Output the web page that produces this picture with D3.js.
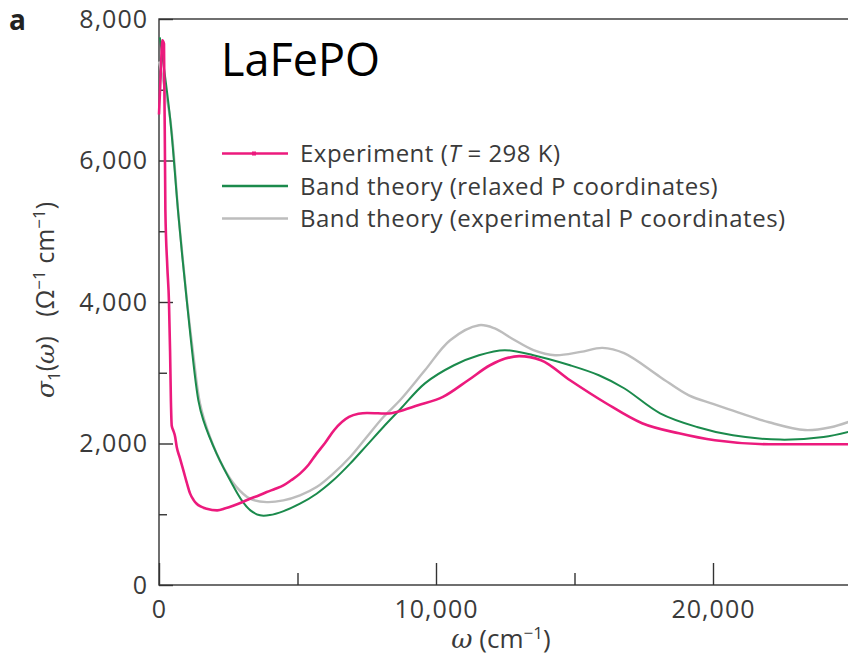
<!DOCTYPE html>
<html>
<head>
  <meta charset="utf-8">
  <script src="https://cdn.jsdelivr.net/npm/d3@7"></script>
  <title>LaFePO</title>
<style>
body { margin: 0; background: #fff; }
svg { background: #fff; font-family: "Open Sans", "Noto Sans", sans-serif; }
.axis text { fill: #3a3a3a; font-size: 25px; font-family: "Open Sans", sans-serif; letter-spacing: 1px; }
.axis path, .axis line { stroke: #333; stroke-width: 1.4; }
</style>
</head>
<body>
<script>
// experiment (T = 298 K)
var expW = [0, 60, 120, 180, 230, 300, 360, 400, 430, 460, 520, 580, 640, 750, 880, 1000, 1120, 1250, 1360, 1500, 1720, 2100, 2400, 2700, 3000, 3285, 3600, 3890, 4200, 4490, 4770, 5090, 5400, 5690, 6000, 6320, 6860, 7200, 7510, 8300, 8580, 9350, 10250, 11160, 11950, 12500, 13000, 13790, 14840, 16140, 17440, 18770, 20070, 22020, 25000];
var expS = [6650, 7200, 7700, 7650, 5300, 4500, 4000, 3300, 2600, 2250, 2180, 2100, 1950, 1800, 1620, 1450, 1295, 1200, 1149, 1110, 1078, 1055, 1085, 1125, 1170, 1220, 1265, 1314, 1360, 1408, 1480, 1574, 1700, 1857, 2010, 2187, 2375, 2420, 2432, 2423, 2446, 2540, 2658, 2894, 3106, 3200, 3235, 3178, 2894, 2569, 2286, 2144, 2045, 1990, 1990];

// band theory, relaxed P coordinates
var relW = [30, 400, 700, 1000, 1420, 1600, 2080, 2680, 3000, 3300, 3650, 4000, 4500, 5090, 5690, 6290, 6900, 7500, 8100, 8700, 9600, 10650, 11550, 12480, 13520, 14840, 15880, 16790, 18090, 19420, 20720, 22420, 23990, 25000];
var relS = [7740, 6600, 5230, 4030, 2610, 2330, 1857, 1400, 1190, 1055, 985, 988, 1045, 1149, 1290, 1479, 1715, 1974, 2234, 2480, 2850, 3106, 3248, 3319, 3248, 3106, 2965, 2781, 2427, 2234, 2116, 2055, 2092, 2175];

// band theory, experimental P coordinates
var expPW = [0, 400, 700, 1000, 1240, 1480, 1840, 2320, 2800, 3285, 3890, 4490, 5090, 5690, 6290, 6900, 7500, 8100, 8700, 9600, 10510, 11550, 12100, 12800, 13520, 14300, 15220, 16010, 16790, 18090, 19130, 20000, 20900, 22020, 23320, 24250, 25000];
var expPS = [7400, 6600, 5250, 4050, 3250, 2565, 2092, 1667, 1384, 1220, 1172, 1196, 1267, 1384, 1574, 1809, 2092, 2375, 2611, 3035, 3460, 3672, 3630, 3470, 3320, 3248, 3295, 3351, 3276, 2941, 2680, 2560, 2440, 2300, 2190, 2230, 2320];

var yMajor = [0, 2000, 4000, 6000, 8000];
var yMinor = [1000, 3000, 5000, 7000];
var xMajor = [0, 10000, 20000];
var xMinor = [5000, 15000];

var legendNames = ['Experiment', 'Band theory (relaxed P coordinates)', 'Band theory (experimental P coordinates)'];
var colors = ['#ec1a7d', '#1b8a4c', '#bdbdbd'];

var width = 848, height = 655;
var x = d3.scaleLinear().domain([0, 25000]).range([159, 851.5]);
var y = d3.scaleLinear().domain([0, 8000]).range([585, 19]);

var svg = d3.select('body').append('svg')
  .attr('width', width)
  .attr('height', height);

// frame
svg.append('rect')
  .attr('x', x(0)).attr('y', y(8000))
  .attr('width', x(25000) + 5 - x(0)).attr('height', y(0) - y(8000))
  .attr('fill', 'none').attr('stroke', '#333').attr('stroke-width', 1.4);

var fmt = d3.format(',');

svg.append('g').attr('class', 'axis')
  .attr('transform', 'translate(' + x(0) + ',0)')
  .call(d3.axisLeft(y).tickValues(yMajor).tickSize(-14).tickPadding(11).tickFormat(fmt))
  .call(function(g){ g.select('.domain').remove(); });
svg.append('g').attr('class', 'axis')
  .attr('transform', 'translate(' + x(0) + ',0)')
  .call(d3.axisLeft(y).tickValues(yMinor).tickSize(-8).tickFormat(''))
  .call(function(g){ g.select('.domain').remove(); });

svg.append('g').attr('class', 'axis')
  .attr('transform', 'translate(0,' + y(0) + ')')
  .call(d3.axisBottom(x).tickValues(xMajor).tickSize(-22).tickPadding(15).tickFormat(fmt))
  .call(function(g){ g.select('.domain').remove(); });
svg.append('g').attr('class', 'axis')
  .attr('transform', 'translate(0,' + y(0) + ')')
  .call(d3.axisBottom(x).tickValues(xMinor).tickSize(-12).tickFormat(''))
  .call(function(g){ g.select('.domain').remove(); });

// curves
var smooth = d3.line()
  .x(function(d){ return x(d[0]); })
  .y(function(d){ return y(d[1]); })
  .curve(d3.curveCatmullRom.alpha(0.5));
var mono = d3.line()
  .x(function(d){ return x(d[0]); })
  .y(function(d){ return y(d[1]); })
  .curve(d3.curveMonotoneX);

function pairs(ws, ss){ return ws.map(function(w, i){ return [w, ss[i]]; }); }

svg.append('path').datum(pairs(expPW, expPS))
  .attr('d', smooth).attr('fill', 'none')
  .attr('stroke', colors[2]).attr('stroke-width', 2.4);
svg.append('path').datum(pairs(relW, relS))
  .attr('d', smooth).attr('fill', 'none')
  .attr('stroke', colors[1]).attr('stroke-width', 2);
svg.append('path').datum(pairs(expW, expS))
  .attr('d', mono).attr('fill', 'none')
  .attr('stroke', colors[0]).attr('stroke-width', 2.6);

// legend
var legend = svg.append('g');
legendNames.forEach(function(name, i){
  var ly = 153.5 + i * 32.5;
  legend.append('line')
    .attr('x1', 222).attr('x2', 288).attr('y1', ly).attr('y2', ly)
    .attr('stroke', colors[i]).attr('stroke-width', i == 0 ? 2.4 : 2.6);
  var t = legend.append('text')
    .attr('x', 300).attr('y', ly + 8.5)
    .attr('fill', '#3a3a3a').style('font-size', '24px')
    .style('letter-spacing', '0.5px');
  if (i == 0) {
    t.append('tspan').text('Experiment (');
    t.append('tspan').style('font-style', 'italic').text('T');
    t.append('tspan').text(' = 298 K)');
  } else {
    t.text(name);
  }
});
legend.append('rect')
  .attr('x', 252).attr('y', 151.5).attr('width', 4).attr('height', 4)
  .attr('fill', colors[0]);

// labels
svg.append('text')
  .attr('x', 9).attr('y', 30)
  .style('font-size', '28px').style('font-weight', 'bold')
  .attr('fill', '#222').text('a');

svg.append('text')
  .attr('x', 221).attr('y', 76)
  .style('font-size', '45px').attr('fill', '#000')
  .text('LaFePO');

var xt = svg.append('text')
  .attr('x', 501).attr('y', 648)
  .attr('text-anchor', 'middle')
  .attr('fill', '#3a3a3a').style('font-size', '26px');
xt.append('tspan').style('font-style', 'italic').style('font-family', 'DejaVu Serif').text('ω');
xt.append('tspan').text('\u00a0(cm');
xt.append('tspan').attr('dy', -9).style('font-size', '17px').text('−1');
xt.append('tspan').attr('dy', 9).text(')');

var yt = svg.append('text')
  .attr('transform', 'translate(54,300) rotate(-90)')
  .attr('text-anchor', 'middle')
  .attr('fill', '#3a3a3a').style('font-size', '25px');
yt.append('tspan').style('font-style', 'italic').style('font-family', 'DejaVu Serif').text('σ');
yt.append('tspan').attr('dy', 6).style('font-size', '17px').text('1');
yt.append('tspan').attr('dy', -6).text('(');
yt.append('tspan').style('font-style', 'italic').style('font-family', 'DejaVu Serif').text('ω');
yt.append('tspan').text(')\u00a0\u00a0\u00a0(Ω');
yt.append('tspan').attr('dy', -9).style('font-size', '17px').text('−1');
yt.append('tspan').attr('dy', 9).text('\u00a0cm');
yt.append('tspan').attr('dy', -9).style('font-size', '17px').text('−1');
yt.append('tspan').attr('dy', 9).text(')');
</script>
</body>
</html>
